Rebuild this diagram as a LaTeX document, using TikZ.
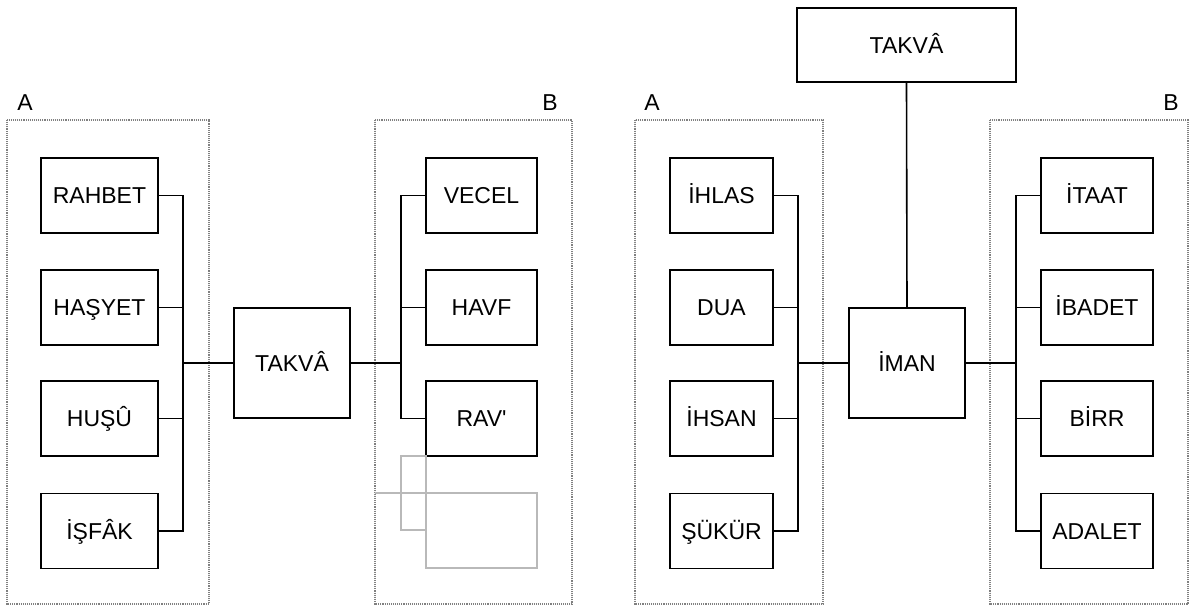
\documentclass[tikz,border=0pt]{standalone}
\usepackage{fontspec}
\setmainfont{Liberation Sans}
\usepackage{xcolor}

\tikzset{
	box/.style={draw, line width=1.6pt, inner sep=0pt, minimum width=117pt, minimum height=75pt, text height=16.5pt, text depth=0pt, font=\fontsize{23}{27}\selectfont},
	link/.style={line width=1.6pt},
	group/.style={draw=gray, densely dotted, line width=1.1pt},
	ghost/.style={draw=gray!55, line width=1.3pt},
	tag/.style={font=\fontsize{23}{27}\selectfont}
}

\begin{document}
\begin{tikzpicture}[x=1pt, y=-1pt]
	\useasboundingbox (0,0) rectangle (1195,606);

	\draw[group] (7,120) rectangle (209,604);
	\draw[group] (375,120) rectangle (572,604);
	\draw[group] (635,120) rectangle (823,604);
	\draw[group] (990,120) rectangle (1188,604);
	\node[tag] (la1) at (25,103) {A};
	\node[tag] (lb1) at (550,103) {B};
	\node[tag] (la2) at (652,103) {A};
	\node[tag] (lb2) at (1171,103) {B};

	\node[box] (rahbet) at (99.5,195.5) {RAHBET};
	\node[box] (hasyet) at (99.5,307.5) {HAŞYET};
	\node[box] (husu) at (99.5,418.5) {HUŞÛ};
	\node[box] (isfak) at (99.5,531) {İŞFÂK};
	\node[box, minimum width=116pt, minimum height=110pt] (takva) at (292,363) {TAKVÂ};
	\node[box, minimum width=111pt] (vecel) at (481.5,195.5) {VECEL};
	\node[box, minimum width=111pt] (havf) at (481.5,307.5) {HAVF};
	\node[box, minimum width=111pt] (rav) at (481.5,418.5) {RAV\textquotesingle};
	\coordinate (busA) at (183,363);
	\coordinate (busB) at (401,363);

	\draw[link] (rahbet.east) -| (busA);
	\draw[link] (hasyet.east) -| (busA);
	\draw[link] (husu.east) -| (busA);
	\draw[link] (isfak.east) -| (busA);
	\draw[link] (busA) -- (takva.west);
	\draw[link] (takva.east) -- (busB);
	\draw[link] (busB) |- (vecel.west);
	\draw[link] (busB) |- (havf.west);
	\draw[link] (busB) |- (rav.west);

	\draw[ghost] (401,456) rectangle (426,530);
	\draw[ghost] (426,493) rectangle (537,568);
	\draw[ghost] (375,493) -- (426,493);

	\node[box, minimum width=103pt] (ihlas) at (721.5,195.5) {İHLAS};
	\node[box, minimum width=103pt] (dua) at (721.5,307.5) {DUA};
	\node[box, minimum width=103pt] (ihsan) at (721.5,418.5) {İHSAN};
	\node[box, minimum width=103pt] (sukur) at (721.5,531) {ŞÜKÜR};
	\node[box, minimum width=116pt, minimum height=110pt] (iman) at (907,363) {İMAN};
	\node[box, minimum width=219pt, minimum height=74pt] (takvatop) at (906.5,45) {TAKVÂ};
	\node[box, minimum width=112pt] (itaat) at (1097,195.5) {İTAAT};
	\node[box, minimum width=112pt] (ibadet) at (1097,307.5) {İBADET};
	\node[box, minimum width=112pt] (birr) at (1097,418.5) {BİRR};
	\node[box, minimum width=112pt] (adalet) at (1097,531) {ADALET};
	\coordinate (busC) at (798,363);
	\coordinate (busD) at (1016,363);

	\draw[link] (ihlas.east) -| (busC);
	\draw[link] (dua.east) -| (busC);
	\draw[link] (ihsan.east) -| (busC);
	\draw[link] (sukur.east) -| (busC);
	\draw[link] (busC) -- (iman.west);
	\draw[link] (takvatop.south) -- (iman.north);
	\draw[link] (iman.east) -- (busD);
	\draw[link] (busD) |- (itaat.west);
	\draw[link] (busD) |- (ibadet.west);
	\draw[link] (busD) |- (birr.west);
	\draw[link] (busD) |- (adalet.west);
\end{tikzpicture}
\end{document}
